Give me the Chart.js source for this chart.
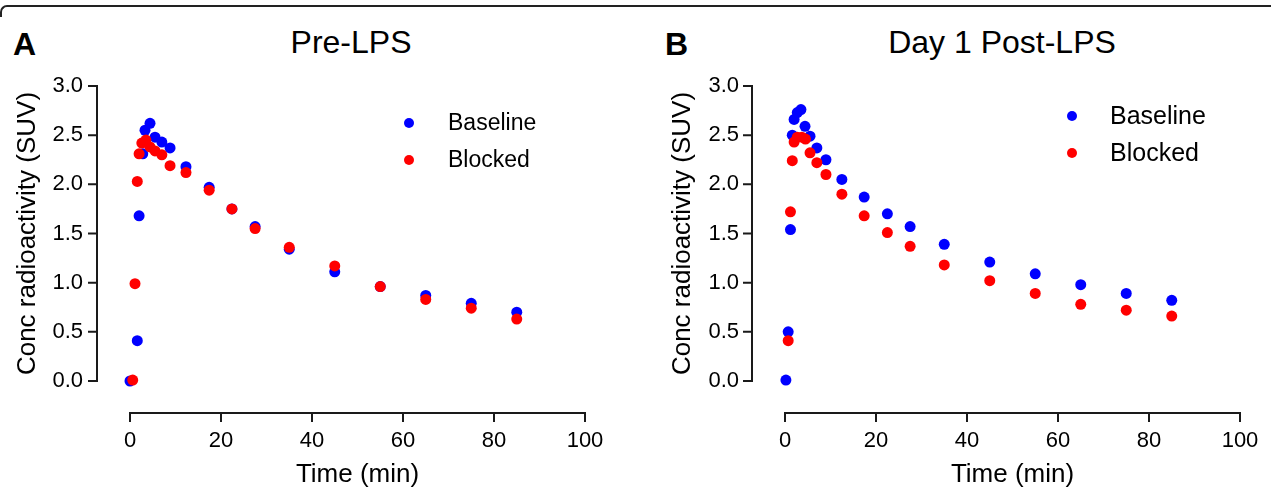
<!DOCTYPE html>
<html>
<head>
<meta charset="utf-8">
<script src="https://cdn.jsdelivr.net/npm/chart.js@4.4.1/dist/chart.umd.min.js"></script>
<style>
  html, body { margin: 0; padding: 0; background: #fff; }
  body { width: 1271px; height: 488px; position: relative; overflow: hidden; font-family: "Liberation Sans", Arial, sans-serif; }
  .frame { position: absolute; left: 0; top: 5px; width: 1290px; height: 10px; border-top: 2px solid #222; border-left: 2px solid #222; border-top-left-radius: 7px; }
  .panel { position: absolute; top: 0; }
  .letter { position: absolute; font-weight: bold; font-size: 32px; line-height: 32px; color: #000; }
  .title { position: absolute; font-size: 32px; line-height: 32px; color: #000; white-space: nowrap; transform: translateX(-50%); }
</style>
</head>
<body>
<div class="frame"></div>
<div class="letter" style="left:13px; top:28px;">A</div>
<div class="title" style="left:351px; top:26px;">Pre-LPS</div>
<div class="letter" style="left:665px; top:28px;">B</div>
<div class="title" style="left:1002px; top:26px;">Day 1 Post-LPS</div>
<canvas id="chartA" class="panel" style="left:0px;" width="640" height="488"></canvas>
<canvas id="chartB" class="panel" style="left:640px;" width="631" height="488"></canvas>
<script>
// Pre-LPS
const preBaselineTime = [0, 1.6, 2.0, 2.8, 3.3, 4.4, 5.5, 7.0, 8.8, 12.3, 17.4, 22.4, 27.5, 35, 45, 55, 65, 75, 85];
const preBaselineSuv = [0.00, 0.41, 1.68, 2.31, 2.55, 2.62, 2.48, 2.43, 2.37, 2.18, 1.97, 1.75, 1.57, 1.34, 1.11, 0.96, 0.87, 0.79, 0.70];
const preBlockedTime = [0.6, 1.1, 1.6, 2.0, 2.6, 3.5, 4.4, 5.5, 7.0, 8.8, 12.3, 17.4, 22.4, 27.5, 35, 45, 55, 65, 75, 85];
const preBlockedSuv = [0.01, 0.99, 2.03, 2.31, 2.42, 2.45, 2.38, 2.34, 2.30, 2.19, 2.12, 1.94, 1.75, 1.55, 1.36, 1.17, 0.96, 0.83, 0.74, 0.63];

// Day 1 Post-LPS
const postBaselineTime = [0.2, 0.7, 1.2, 1.6, 2.0, 2.7, 3.5, 4.4, 5.5, 7.0, 9.0, 12.5, 17.4, 22.5, 27.5, 35, 45, 55, 65, 75, 85];
const postBaselineSuv = [0.01, 0.50, 1.54, 2.50, 2.66, 2.73, 2.76, 2.59, 2.49, 2.37, 2.25, 2.05, 1.87, 1.70, 1.57, 1.39, 1.21, 1.09, 0.98, 0.89, 0.82];
const postBlockedTime = [0.7, 1.2, 1.6, 2.0, 2.7, 3.7, 4.5, 5.5, 7.0, 9.0, 12.5, 17.4, 22.5, 27.5, 35, 45, 55, 65, 75, 85];
const postBlockedSuv = [0.41, 1.72, 2.24, 2.43, 2.48, 2.48, 2.46, 2.32, 2.22, 2.10, 1.90, 1.68, 1.51, 1.37, 1.18, 1.02, 0.89, 0.78, 0.72, 0.66];

const seriesLabels = ['Baseline', 'Blocked'];
const seriesColors = ['#0000ff', '#ff0000'];

const xTicks = [0, 20, 40, 60, 80, 100];
const yTicks = [0, 0.5, 1.0, 1.5, 2.0, 2.5, 3.0];

Chart.defaults.font.family = '"Liberation Sans", Arial, sans-serif';
Chart.defaults.color = '#000';

function toPoints(xs, ys) {
  return xs.map((x, i) => ({ x: x, y: ys[i] }));
}

// axes detached from the plot area, prism style
const offsetAxes = {
  id: 'offsetAxes',
  afterDraw(chart, args, opts) {
    const { ctx, chartArea, scales } = chart;
    const x = scales.x;
    const y = scales.y;
    ctx.save();
    ctx.strokeStyle = '#1a1a1a';
    ctx.lineWidth = 2;
    ctx.beginPath();
    const ax = chartArea.left - opts.gapX;
    ctx.moveTo(ax, y.getPixelForValue(y.max) - 1);
    ctx.lineTo(ax, y.getPixelForValue(y.min) + 1);
    y.ticks.forEach(t => {
      const py = y.getPixelForValue(t.value);
      ctx.moveTo(ax - opts.tick, py);
      ctx.lineTo(ax, py);
    });
    const ay = chartArea.bottom + opts.gapY;
    ctx.moveTo(x.getPixelForValue(x.min) - 1, ay);
    ctx.lineTo(x.getPixelForValue(x.max) + 1, ay);
    x.ticks.forEach(t => {
      const px = x.getPixelForValue(t.value);
      ctx.moveTo(px, ay);
      ctx.lineTo(px, ay + opts.tick);
    });
    ctx.stroke();
    ctx.restore();
  }
};

const dotLegend = {
  id: 'dotLegend',
  afterDraw(chart, args, opts) {
    const { ctx } = chart;
    ctx.save();
    chart.data.datasets.forEach((ds, i) => {
      const cy = opts.rows[i];
      ctx.fillStyle = ds.backgroundColor;
      ctx.beginPath();
      ctx.arc(opts.markerX, cy, 5, 0, Math.PI * 2);
      ctx.fill();
      ctx.fillStyle = '#000';
      ctx.font = opts.fontSize + 'px "Liberation Sans", Arial, sans-serif';
      ctx.textBaseline = 'middle';
      ctx.textAlign = 'left';
      ctx.fillText(ds.label, opts.textX, cy + 1);
    });
    ctx.restore();
  }
};

// invisible tick marks push the labels away from the plot without
// inflating the edge padding that ticks.padding would add
const hiddenGrid = (len) => ({
  display: true,
  drawOnChartArea: false,
  drawTicks: true,
  tickLength: len,
  color: 'rgba(0,0,0,0)',
});

function makePanel(id, baseT, baseY, blockT, blockY, cfg) {
  const ctx = document.getElementById(id).getContext('2d');
  return new Chart(ctx, {
    type: 'scatter',
    data: {
      datasets: [
        {
          label: seriesLabels[0],
          data: toPoints(baseT, baseY),
          backgroundColor: seriesColors[0],
          borderWidth: 0,
          pointRadius: 5.5,
          clip: false,
          order: 2,
        },
        {
          label: seriesLabels[1],
          data: toPoints(blockT, blockY),
          backgroundColor: seriesColors[1],
          borderWidth: 0,
          pointRadius: 5.5,
          clip: false,
          order: 1,
        },
      ],
    },
    options: {
      responsive: false,
      animation: false,
      layout: { padding: { top: 86, right: cfg.right, bottom: 0, left: 0 } },
      scales: {
        x: {
          type: 'linear',
          min: 0,
          max: 100,
          afterBuildTicks: s => { s.ticks = xTicks.map(v => ({ value: v })); },
          afterFit: s => { s.height = 107; },
          grid: hiddenGrid(47),
          border: { display: false },
          ticks: { font: { size: 22 }, color: '#000', padding: 0, maxRotation: 0 },
          title: { display: true, text: 'Time (min)', color: '#000', font: { size: 26, lineHeight: 1 }, padding: 0 },
        },
        y: {
          type: 'linear',
          min: 0,
          max: 3,
          afterBuildTicks: s => { s.ticks = yTicks.map(v => ({ value: v })); },
          afterFit: s => { s.width = cfg.left; },
          grid: hiddenGrid(cfg.labelPad),
          border: { display: false },
          ticks: { font: { size: 22 }, color: '#000', padding: 0, callback: v => Number(v).toFixed(1) },
          title: { display: true, text: 'Conc radioactivity (SUV)', color: '#000', font: { size: 26, lineHeight: 1 }, padding: { top: cfg.titlePad, bottom: 0 } },
        },
      },
      plugins: {
        legend: { display: false },
        tooltip: { enabled: false },
        offsetAxes: { gapX: 33, gapY: 32, tick: 9 },
        dotLegend: cfg.legend,
      },
    },
    plugins: [offsetAxes, dotLegend],
  });
}

makePanel('chartA', preBaselineTime, preBaselineSuv, preBlockedTime, preBlockedSuv, {
  left: 130, right: 55, labelPad: 47, titlePad: 15,
  legend: { markerX: 409, textX: 448, rows: [123, 160], fontSize: 23 },
});

makePanel('chartB', postBaselineTime, postBaselineSuv, postBlockedTime, postBlockedSuv, {
  left: 145, right: 31, labelPad: 46, titlePad: 30,
  legend: { markerX: 432, textX: 470, rows: [116, 153], fontSize: 25 },
});
</script>
</body>
</html>
